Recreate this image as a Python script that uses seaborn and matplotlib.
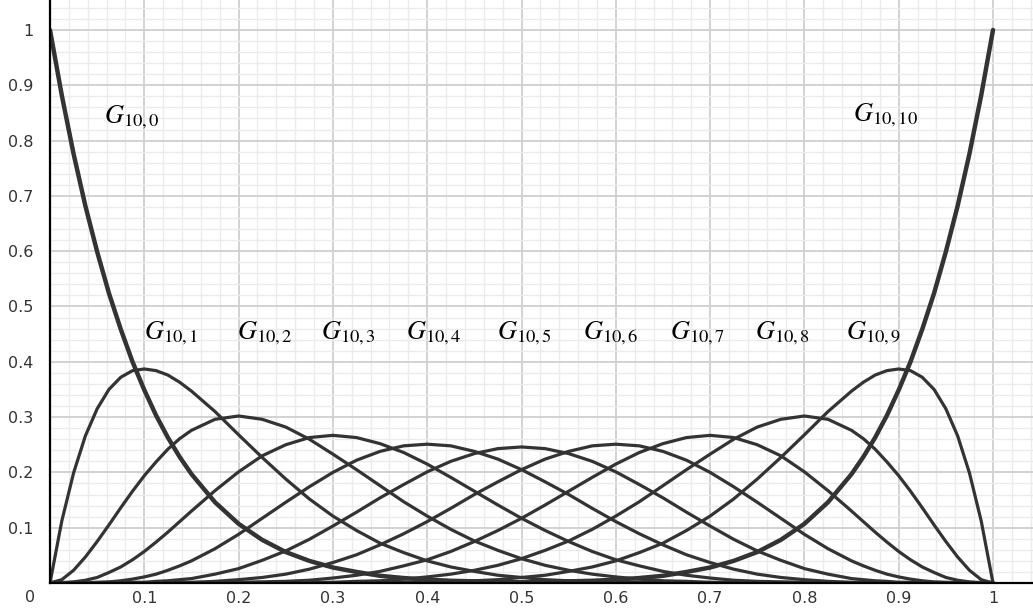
import matplotlib
matplotlib.use("Agg")
import matplotlib.pyplot as plt
import seaborn as sns
import numpy as np

x_vals = [0, .0125, .025, .0375, .05, .0625, .075, .0875, .1, .1125, .125, .1375, .15,
          .175, .2, .225, .25, .275, .3, .325, .35, .375, .4, .425, .45, .475, .5,
          .525, .55, .575, .6, .625, .65, .675, .7, .725, .75, .775, .8, .825,
          .85, .8625, .875, .8875, .9, .9125, .925, .9375, .95, .9625, .975, .9875, 1]

# Values for each basis curve G_{10,k}
g0 = [1.000, .882, .776, .682, .599, .524, .459, .400, .349, .303, .263, .228, .197,
      .146, .107, .078, .056, .040, .028, .020, .013, .009, .006, .004, .003, .002, .001,
      .001, .000, .000, .000, 0, 0, 0, 0, 0, 0, 0, 0, 0,
      0, 0, 0, 0, 0, 0, 0, 0, 0, 0, 0, 0, 0]
g1 = [0, .112, .199, .266, .315, .350, .372, .384, .387, .384, .376, .363, .347,
      .310, .268, .227, .188, .152, .121, .095, .072, .055, .040, .029, .021, .014, .010,
      .006, .004, .003, .002, .001, .001, .000, 0, 0, 0, 0, 0, 0,
      0, 0, 0, 0, 0, 0, 0, 0, 0, 0, 0, 0, 0]
g2 = [0, .006, .023, .047, .075, .105, .136, .166, .194, .219, .242, .261, .276,
      .296, .302, .296, .282, .260, .233, .205, .176, .147, .121, .097, .076, .059, .044,
      .032, .023, .016, .011, .007, .004, .003, .001, .001, 0, 0, 0, 0,
      0, 0, 0, 0, 0, 0, 0, 0, 0, 0, 0, 0, 0]
g3 = [0, .000, .002, .005, .010, .019, .029, .042, .057, .074, .092, .111, .130,
      .167, .201, .230, .250, .263, .267, .263, .252, .236, .215, .191, .166, .141, .117,
      .095, .075, .057, .042, .031, .021, .014, .009, .005, .003, .002, .001, 0,
      0, 0, 0, 0, 0, 0, 0, 0, 0, 0, 0, 0, 0]
g4 = [0, 0, .000, .000, .001, .002, .004, .007, .011, .016, .023, .031, .040,
      .062, .088, .117, .146, .174, .200, .222, .238, .248, .251, .248, .238, .224, .205,
      .183, .160, .135, .111, .089, .069, .051, .037, .025, .016, .010, .006, .003,
      .001, .001, .000, .000, .000, 0, 0, 0, 0, 0, 0, 0, 0]
g5 = [0, 0, 0, 0, .000, .000, .000, .001, .001, .003, .004, .006, .008,
      .016, .026, .041, .058, .079, .103, .128, .154, .178, .201, .220, .234, .243, .246,
      .243, .234, .220, .201, .178, .154, .128, .103, .079, .058, .041, .026, .016,
      .008, .006, .004, .003, .001, .001, .000, .000, .000, 0, 0, 0, 0]
g6 = [0, 0, 0, 0, 0, 0, 0, 0, .000, .000, .000, .001, .001,
      .003, .006, .010, .016, .025, .037, .051, .069, .089, .111, .135, .160, .183, .205,
      .224, .238, .248, .251, .248, .238, .222, .200, .174, .146, .117, .088, .062,
      .040, .031, .023, .016, .011, .007, .004, .002, .001, .000, .000, 0, 0]
g7 = [0, 0, 0, 0, 0, 0, 0, 0, 0, 0, 0, 0, 0,
      0, .001, .002, .003, .005, .009, .014, .021, .031, .042, .057, .075, .095, .117,
      .141, .166, .191, .215, .236, .252, .263, .267, .263, .250, .230, .201, .167,
      .130, .111, .092, .074, .057, .042, .029, .019, .010, .005, .002, .000, 0]
g8 = [0, 0, 0, 0, 0, 0, 0, 0, 0, 0, 0, 0, 0,
      0, 0, 0, 0, .001, .001, .003, .004, .007, .011, .016, .023, .032, .044,
      .059, .076, .097, .121, .147, .176, .205, .233, .260, .282, .296, .302, .296,
      .276, .261, .242, .219, .194, .166, .136, .105, .075, .047, .023, .006, 0]
g9 = [0, 0, 0, 0, 0, 0, 0, 0, 0, 0, 0, 0, 0,
      0, 0, 0, 0, 0, 0, .000, .001, .001, .002, .003, .004, .006, .010,
      .014, .021, .029, .040, .055, .072, .095, .121, .152, .188, .227, .268, .310,
      .347, .363, .376, .384, .387, .384, .372, .350, .315, .266, .199, .112, 0]
g10 = [0, 0, 0, 0, 0, 0, 0, 0, 0, 0, 0, 0, 0,
       0, 0, 0, 0, 0, 0, 0, 0, 0, .000, .000, .000, .001, .001,
       .002, .003, .004, .006, .009, .013, .020, .028, .040, .056, .078, .107, .146,
       .197, .228, .263, .303, .349, .400, .459, .524, .599, .682, .776, .882, 1.000]

curves = [g0, g1, g2, g3, g4, g5, g6, g7, g8, g9, g10]

# Label text and where each label sits (left edge x, baseline y)
labels = [r"$G_{10,%d}$" % k for k in range(11)]
label_x = [0.057, 0.100, 0.198, 0.287, 0.378, 0.474, 0.565, 0.657, 0.748, 0.844, 0.852]
label_y = [0.832, 0.441, 0.441, 0.441, 0.441, 0.441, 0.441, 0.441, 0.441, 0.441, 0.835]

tick_vals = [0.1, 0.2, 0.3, 0.4, 0.5, 0.6, 0.7, 0.8, 0.9, 1.0]
tick_text = ["0.1", "0.2", "0.3", "0.4", "0.5", "0.6", "0.7", "0.8", "0.9", "1"]

sns.set_style("white")
plt.rcParams["mathtext.fontset"] = "stix"

fig = plt.figure(figsize=(10.33, 6.08), dpi=100)
ax = fig.add_axes([50 / 1033, 25 / 608, 983 / 1033, 583 / 608])

# Grid: major every 0.1, minor every 0.02
ax.set_xlim(0, 1.0424)
ax.set_ylim(0, 1.0542)
ax.set_xticks(tick_vals)
ax.set_xticklabels(tick_text)
ax.set_yticks(tick_vals)
ax.set_yticklabels(tick_text)
ax.set_xticks(np.arange(0, 1.05, 0.02), minor=True)
ax.set_yticks(np.arange(0, 1.06, 0.02), minor=True)
ax.grid(which="minor", color="#ebebeb", linewidth=1.0, zorder=0)
ax.grid(which="major", color="#cfcfcf", linewidth=1.3, zorder=0)
ax.set_axisbelow(True)
ax.tick_params(which="both", length=0)
ax.tick_params(axis="y", pad=12, labelsize=11.5, labelcolor="#333333")
ax.tick_params(axis="x", pad=6, labelsize=11.5, labelcolor="#333333")

# Curves
for k, g in enumerate(curves):
    lw = 3.2 if k in (0, 10) else 2.3
    sns.lineplot(x=x_vals, y=g, ax=ax, color="#333333", linewidth=lw, zorder=3,
                 solid_joinstyle="round", solid_capstyle="round")

for txt, lx, ly in zip(labels, label_x, label_y):
    ax.text(lx, ly, txt, fontsize=19, color="black", ha="left", va="baseline")

# Origin label sits in the corner
ax.text(-20 / 983, -14 / 583, "0", transform=ax.transAxes, ha="center", va="center",
        fontsize=11.5, color="#333333")

for side in ["top", "right"]:
    ax.spines[side].set_visible(False)
ax.spines["left"].set_color("black")
ax.spines["left"].set_linewidth(1.6)
ax.spines["bottom"].set_color("black")
ax.spines["bottom"].set_linewidth(1.6)
ax.spines["left"].set_zorder(4)
ax.spines["bottom"].set_zorder(4)

fig.savefig("out.png", dpi=100)
